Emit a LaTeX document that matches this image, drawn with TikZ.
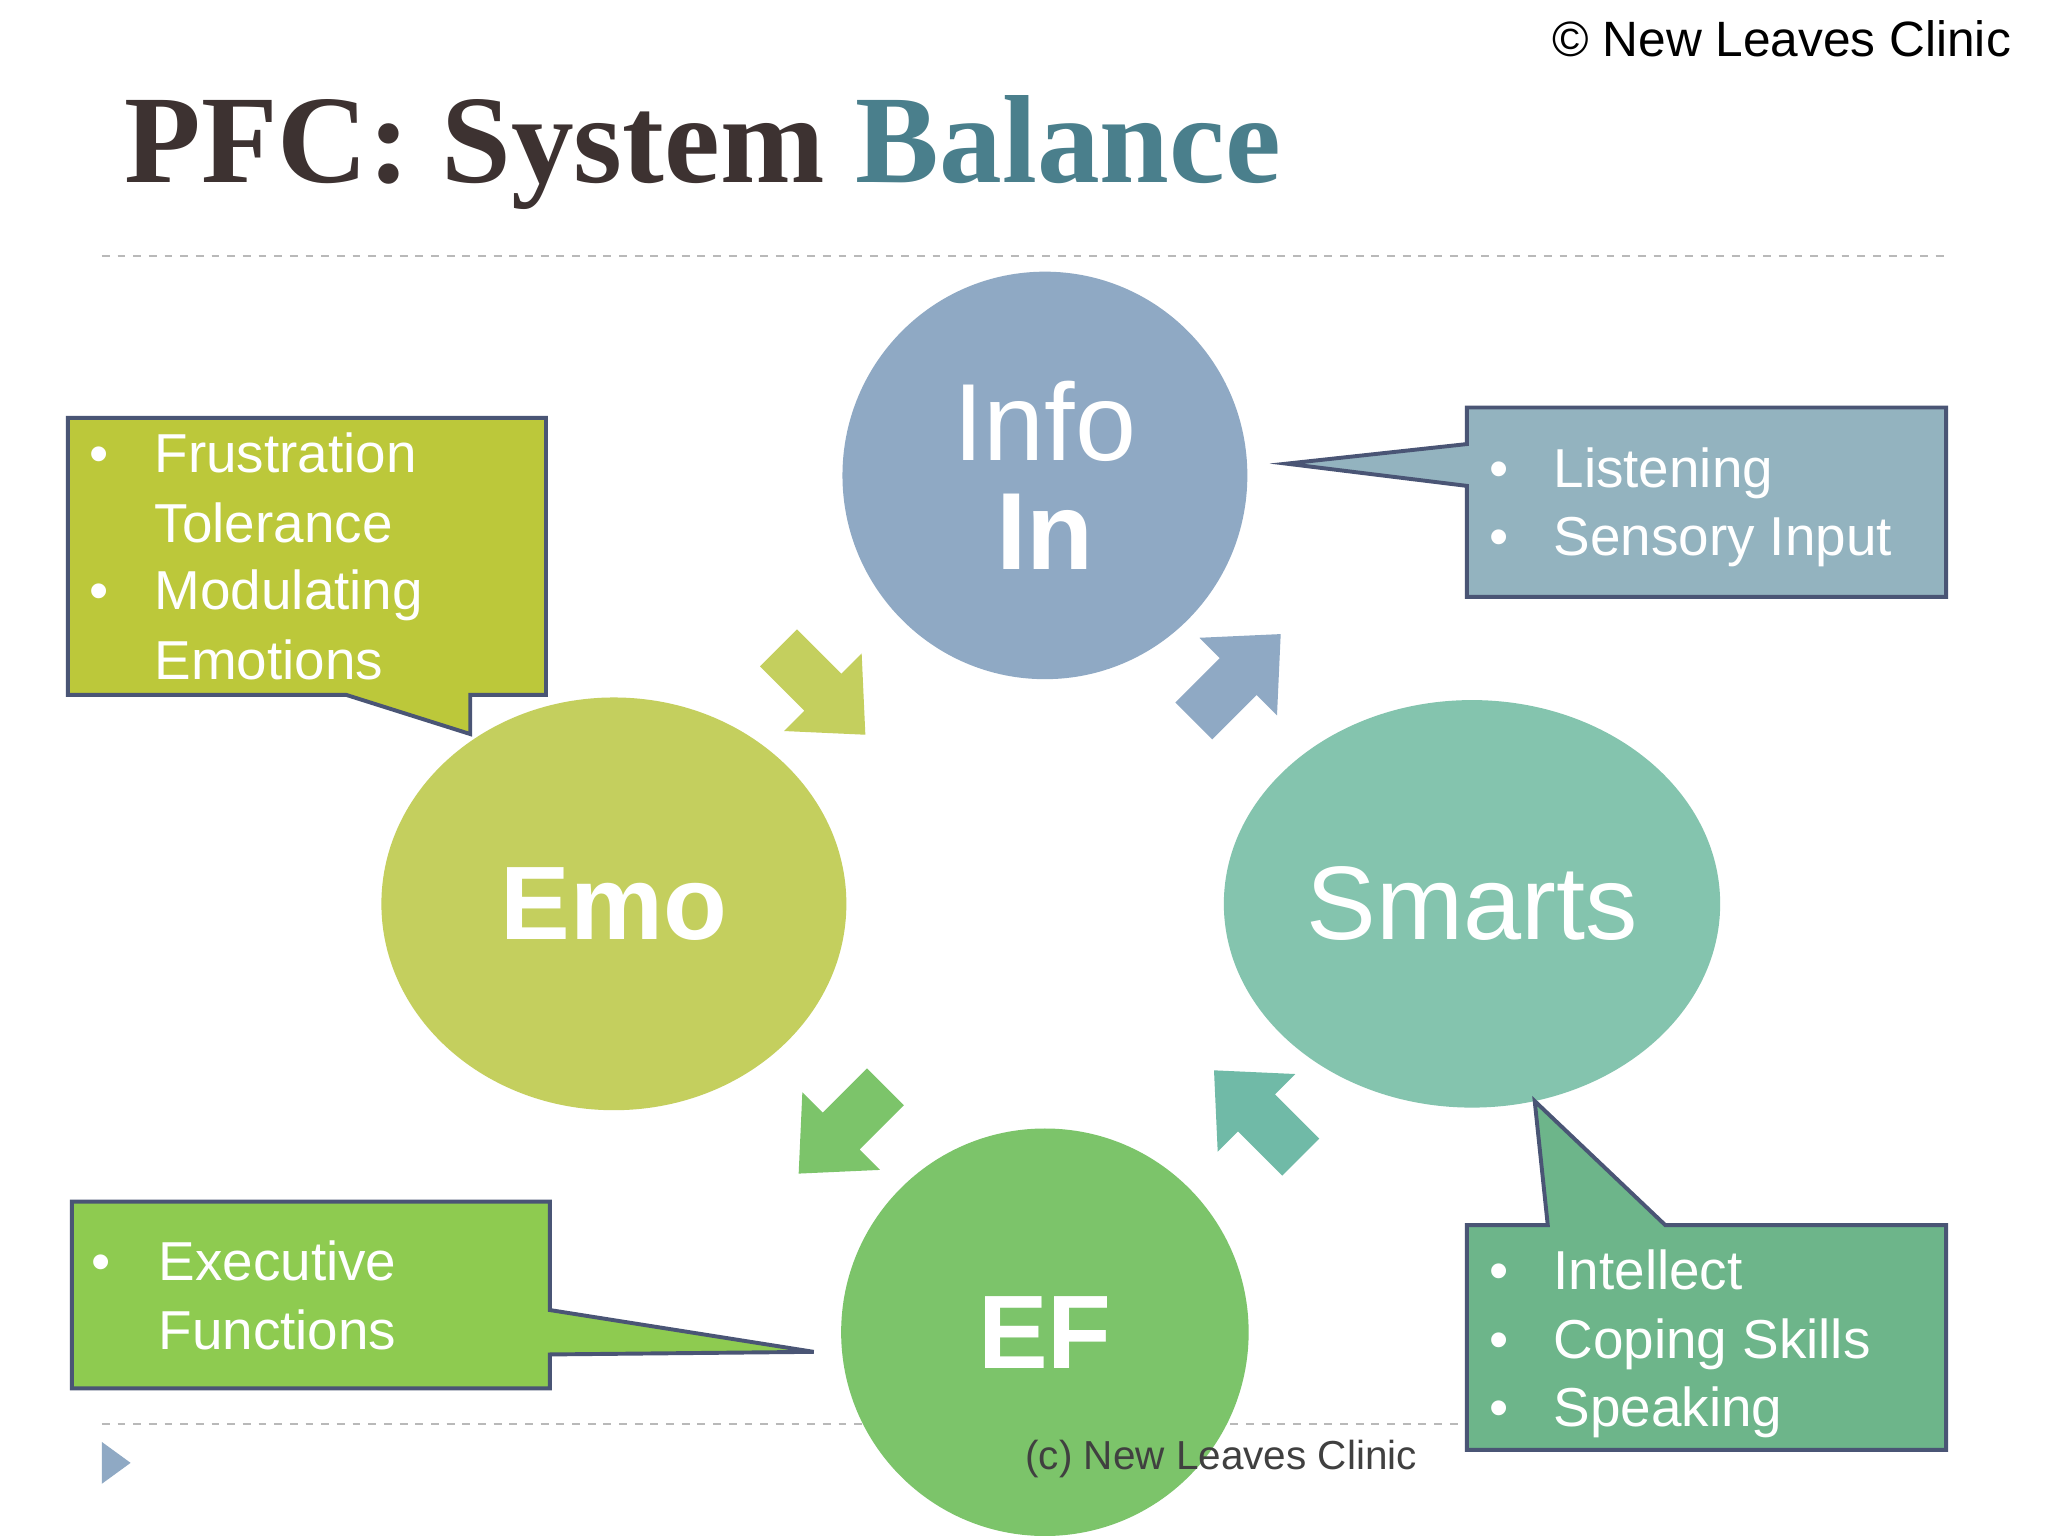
\documentclass[tikz,border=0pt]{standalone}
\usepackage{fontspec}
\setmainfont{Liberation Sans}
\newfontfamily\titlefont{Liberation Serif}
\usetikzlibrary{shapes.geometric}
\definecolor{infoc}{HTML}{8FA9C4}
\definecolor{smartc}{HTML}{84C4AE}
\definecolor{emoc}{HTML}{C4CF5E}
\definecolor{efc}{HTML}{7CC46A}
\definecolor{bordc}{HTML}{4A5575}
\definecolor{titc}{HTML}{3D3231}
\definecolor{balc}{HTML}{4A7F8C}
\definecolor{emob}{HTML}{BCC83A}
\definecolor{infob}{HTML}{93B3BF}
\definecolor{smartb}{HTML}{6DB58A}
\definecolor{efb}{HTML}{8ECB50}
\begin{document}
\begin{tikzpicture}[x=0.5pt,y=-0.5pt,
  blob/.style={ellipse,inner sep=0pt,text=white,font=\fontsize{42}{46}\selectfont},
  call/.style={draw=bordc,line width=1.5pt},
  btxt/.style={anchor=base west,text=white,inner sep=0pt,font=\fontsize{21}{25}\selectfont},
  rule/.style={draw=gray!55,dashed,line width=0.7pt}]
\useasboundingbox (0,0) rectangle (1568,1176);
\fill[white] (0,0) rectangle (1568,1176);
\node[anchor=east,inner sep=0pt,font=\fontsize{19}{22}\selectfont] (copy) at (1540,30) {© New Leaves Clinic};
\node[anchor=base west,inner sep=0pt,font=\titlefont\bfseries\fontsize{48}{52}\selectfont,text=titc] (title) at (95,140) {PFC: System \textcolor{balc}{Balance}};
\coordinate (d1) at (78,196); \coordinate (d2) at (1490,196);
\draw[rule] (d1) -- (d2);
\coordinate (d3) at (78,1090); \coordinate (d4) at (1120,1090);
\draw[rule] (d3) -- (d4);
% arrows
\foreach \cx/\cy/\r/\c in {948/518/45/infoc,962/852/135/smartc!85!teal,644/866/-135/efc,630/530/-45/emoc}{
  \fill[\c,shift={(\cx,\cy)},rotate=\r] (-48,-20) -- (0,-20) -- (0,-42) -- (46,0) -- (0,42) -- (0,20) -- (-48,20) -- cycle;}
% circles
\node[blob,fill=infoc,minimum width=155pt,minimum height=156pt,align=center,font=\fontsize{42}{42}\selectfont] (info) at (800,364) {Info\\\textbf{In}};
\node[blob,fill=smartc,minimum width=190pt,minimum height=156pt,font=\fontsize{40}{44}\selectfont] (smarts) at (1127,692) {Smarts};
\node[blob,fill=emoc,minimum width=178pt,minimum height=158pt,font=\bfseries\fontsize{40}{46}\selectfont] (emo) at (470,692) {Emo};
\node[blob,fill=efc,minimum width=156pt,minimum height=156pt,font=\bfseries\fontsize{40}{46}\selectfont] (ef) at (800,1020) {EF};
% callouts
\coordinate (t1) at (360,562);
\draw[call,fill=emob] (52,320) -- (418,320) -- (418,532) -- (360,532) -- (t1) -- (265,532) -- (52,532) -- cycle;
\coordinate (t2) at (985,355);
\draw[call,fill=infob] (1123,312) -- (1490,312) -- (1490,457) -- (1123,457) -- (1123,372) -- (t2) -- (1123,340) -- cycle;
\coordinate (t3) at (1175,843);
\draw[call,fill=smartb] (1123,938) -- (1185,938) -- (t3) -- (1275,938) -- (1490,938) -- (1490,1110) -- (1123,1110) -- cycle;
\coordinate (t4) at (623,1035);
\draw[call,fill=efb] (55,920) -- (421,920) -- (421,1003) -- (t4) -- (421,1037) -- (421,1063) -- (55,1063) -- cycle;
% callout texts
\foreach \n/\y/\b/\t in {e1/362/1/Frustration,e2/415/0/Tolerance,e3/467/1/Modulating,e4/520/0/Emotions}{
  \ifnum\b=1 \node[btxt] (\n b) at (68,\y) {•};\fi
  \node[btxt] (\n) at (118,\y) {\t};}
\foreach \n/\y/\t in {i1/373/Listening,i2/425/Sensory Input}{
  \node[btxt] (\n b) at (1140,\y) {•}; \node[btxt] (\n) at (1189,\y) {\t};}
\foreach \n/\y/\t in {s1/987/Intellect,s2/1040/Coping Skills,s3/1092/Speaking}{
  \node[btxt] (\n b) at (1140,\y) {•}; \node[btxt] (\n) at (1189,\y) {\t};}
\node[btxt] (f1b) at (70,980) {•};
\node[btxt] (f1) at (121,980) {Executive};
\node[btxt] (f2) at (121,1033) {Functions};
\node[inner sep=0pt,font=\fontsize{15.5}{18}\selectfont,text=black!75] (cl) at (935,1117) {(c) New Leaves Clinic};
\fill[infoc] (78,1104) -- (100,1120) -- (78,1136) -- cycle;
\end{tikzpicture}
\end{document}
